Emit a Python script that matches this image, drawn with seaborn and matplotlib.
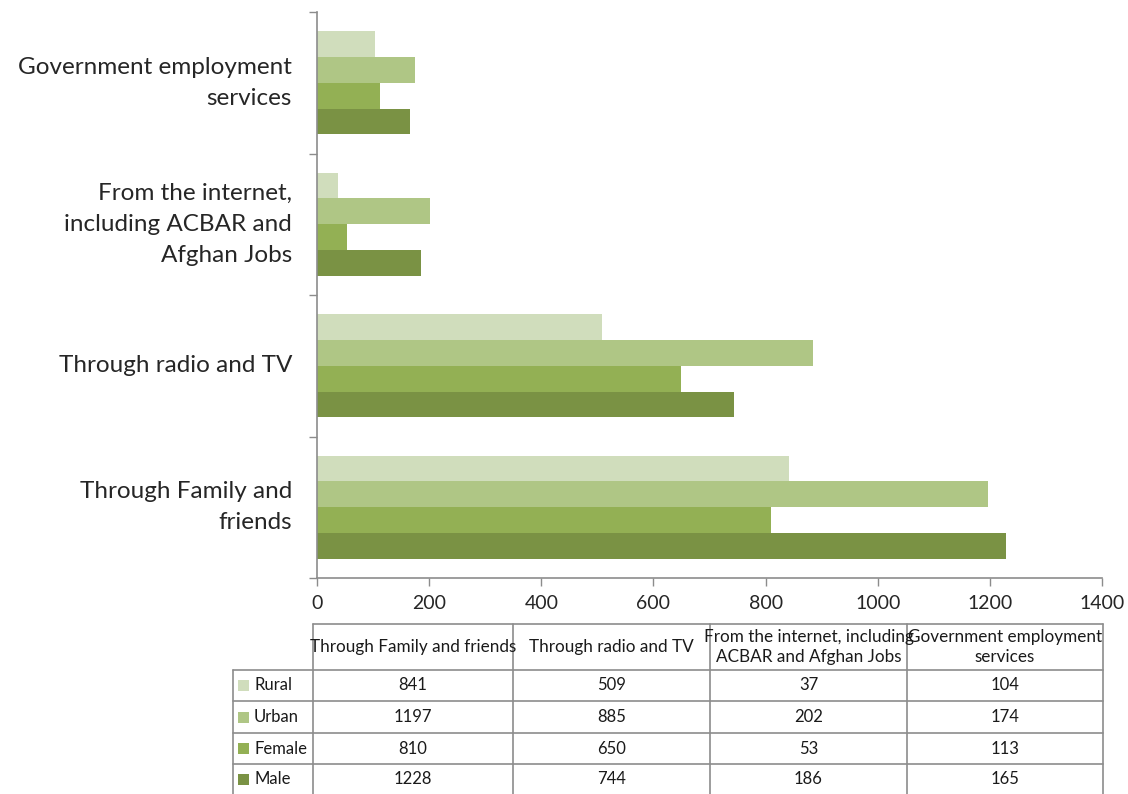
import matplotlib
matplotlib.use("Agg")
import matplotlib.pyplot as plt
import seaborn as sns
import pandas as pd

# Job-search channels (top to bottom on the chart) and respondent groups
channels = [
    "Government employment\nservices",
    "From the internet,\nincluding ACBAR and\nAfghan Jobs",
    "Through radio and TV",
    "Through Family and\nfriends",
]
table_headers = [
    "Through Family and friends",
    "Through radio and TV",
    "From the internet, including\nACBAR and Afghan Jobs",
    "Government employment\nservices",
]
groups = ["Rural", "Urban", "Female", "Male"]

# Counts per group, ordered as channels (top to bottom)
rural = [104, 37, 509, 841]
urban = [174, 202, 885, 1197]
female = [113, 53, 650, 810]
male = [165, 186, 744, 1228]

colors = ["#d0ddbc", "#afc685", "#93b054", "#7a9244"]
grid_gray = "#8c8c8c"

rows = []
for g, vals in zip(groups, [rural, urban, female, male]):
    for c, v in zip(channels, vals):
        rows.append({"channel": c, "group": g, "count": v})
df = pd.DataFrame(rows)

sns.set_theme(style="white")
plt.rcParams["font.family"] = ["Lato", "DejaVu Sans"]

W, H = 1128, 794
fig = plt.figure(figsize=(W / 100, H / 100), dpi=100)
ax = fig.add_axes([317 / W, 1 - 578 / H, (1102 - 317) / W, (578 - 12) / H])

sns.barplot(
    data=df, y="channel", x="count", hue="group",
    order=channels, hue_order=groups, palette=colors,
    orient="h", width=0.73, gap=0, saturation=1,
    edgecolor="none", linewidth=0, legend=False, ax=ax,
)

ax.set_xlim(0, 1400)
ax.set_ylim(len(channels) - 0.5, -0.5)
ax.set_xticks(range(0, 1401, 200))
ax.tick_params(axis="x", labelsize=14, length=6, width=1, color=grid_gray,
               direction="out", pad=6, bottom=True)
ax.set_xlabel("")
ax.set_ylabel("")

# Ticks at category boundaries, labels at category centers
ax.set_yticks([i - 0.5 for i in range(len(channels) + 1)])
ax.set_yticklabels([])
ax.set_yticks(range(len(channels)), minor=True)
ax.set_yticklabels(channels, minor=True, fontsize=17.5, linespacing=1.6)
for lbl in ax.get_yticklabels(minor=True):
    lbl.set_verticalalignment("center")
ax.tick_params(axis="y", which="major", length=6, width=1, color=grid_gray,
               direction="out", left=True)
ax.tick_params(axis="y", which="minor", length=0, pad=18)

for side in ["top", "right"]:
    ax.spines[side].set_visible(False)
for side in ["left", "bottom"]:
    ax.spines[side].set_color(grid_gray)
    ax.spines[side].set_linewidth(1.2)


# Data table drawn below the axes, in pixel coordinates of the figure
def fx(px):
    return px / W


def fy(py):
    return 1 - py / H


col_edges = [313, 513, 710, 907, 1103]
label_left = 233
header_top = 624
row_edges = [670, 701, 733, 764, 795]

line_kw = dict(color=grid_gray, linewidth=1.2, transform=fig.transFigure)

fig.add_artist(plt.Line2D([fx(col_edges[0]), fx(col_edges[-1])],
                          [fy(header_top), fy(header_top)], **line_kw))
for yr in row_edges[:-1]:
    fig.add_artist(plt.Line2D([fx(label_left), fx(col_edges[-1])],
                              [fy(yr), fy(yr)], **line_kw))
for xc in col_edges:
    fig.add_artist(plt.Line2D([fx(xc), fx(xc)],
                              [fy(header_top), fy(row_edges[-1])], **line_kw))
fig.add_artist(plt.Line2D([fx(label_left), fx(label_left)],
                          [fy(row_edges[0]), fy(row_edges[-1])], **line_kw))

for j, head in enumerate(table_headers):
    cx = (col_edges[j] + col_edges[j + 1]) / 2
    fig.text(fx(cx), fy((header_top + row_edges[0]) / 2), head,
             ha="center", va="center", fontsize=12.3, linespacing=1.35,
             color="#1a1a1a")

table_values = [rural, urban, female, male]
for i, (g, vals, col) in enumerate(zip(groups, table_values, colors)):
    cy = (row_edges[i] + row_edges[i + 1]) / 2
    fig.patches.append(plt.Rectangle((fx(238), fy(cy + 5.5)), 11 / W, 11 / H,
                                     facecolor=col, edgecolor="none",
                                     transform=fig.transFigure))
    fig.text(fx(254), fy(cy), g, ha="left", va="center", fontsize=12,
             color="#1a1a1a")
    # table columns follow the header order (reverse of chart order)
    for j, v in enumerate(vals[::-1]):
        cx = (col_edges[j] + col_edges[j + 1]) / 2
        fig.text(fx(cx), fy(cy), str(v), ha="center", va="center",
                 fontsize=12, color="#1a1a1a")

fig.savefig("out.png", dpi=100)
